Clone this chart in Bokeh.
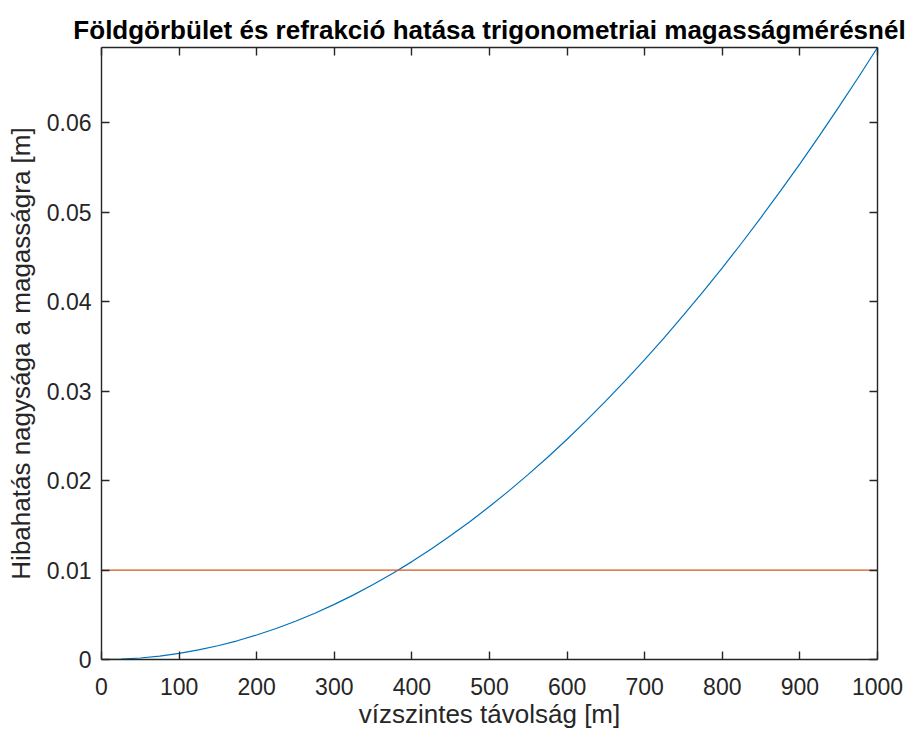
from bokeh.plotting import figure
from bokeh.models import LinearAxis, FixedTicker, CustomJSTickFormatter, Range1d
from bokeh.embed import file_html
from bokeh.resources import INLINE

# data
distance = [0, 25, 50, 75, 100, 125, 150, 175, 200, 225, 250, 275, 300, 325,
            350, 375, 400, 425, 450, 475, 500, 525, 550, 575, 600, 625, 650,
            675, 700, 725, 750, 775, 800, 825, 850, 875, 900, 925, 950, 975, 1000]
error = [0.0, 0.00004, 0.00017, 0.00038, 0.00068, 0.00107, 0.00154, 0.00209,
         0.00274, 0.00346, 0.00428, 0.00517, 0.00616, 0.00722, 0.00838,
         0.00962, 0.01094, 0.01236, 0.01385, 0.01543, 0.01710, 0.01885,
         0.02069, 0.02261, 0.02462, 0.02672, 0.02890, 0.03116, 0.03352,
         0.03595, 0.03848, 0.04108, 0.04378, 0.04655, 0.04942, 0.05237,
         0.05540, 0.05852, 0.06173, 0.06502, 0.0684]
limit_x = [0, 1000]
limit_y = [0.01, 0.01]
x_ticks = [0, 100, 200, 300, 400, 500, 600, 700, 800, 900, 1000]
y_ticks = [0.0, 0.01, 0.02, 0.03, 0.04, 0.05, 0.06]

title = "Földgörbület és refrakció hatása trigonometriai magasságmérésnél"
xlabel = "vízszintes távolság [m]"
ylabel = "Hibahatás nagysága a magasságra [m]"

FONT = "Liberation Sans"
AX = "#262626"

p = figure(width=909, height=731, output_backend="svg", toolbar_location=None,
           x_range=Range1d(0, 1000), y_range=Range1d(0, 0.0684),
           min_border_left=101, min_border_right=32, min_border_top=47,
           min_border_bottom=72)
p.outline_line_color = None
p.xgrid.visible = False
p.ygrid.visible = False
p.background_fill_color = "white"

p.title.text = title
p.title.text_font = FONT
p.title.text_font_size = "26px"
p.title.text_font_style = "bold"
p.title.text_color = "black"
p.title.align = "center"
p.title.standoff = 6

p.line(distance, error, line_color="#0072BD", line_width=1.2)
p.line(limit_x, limit_y, line_color="#D95319", line_width=1.2)

yfmt = CustomJSTickFormatter(code="return tick == 0 ? '0' : tick.toFixed(2);")

def style(ax, labels=True):
    ax.axis_line_color = AX
    ax.axis_line_width = 1.4
    ax.major_tick_line_color = AX
    ax.major_tick_line_width = 1.4
    ax.major_tick_in = 8
    ax.major_tick_out = 0
    ax.minor_tick_line_color = None
    ax.major_label_text_font = FONT
    ax.major_label_text_color = AX
    if labels:
        ax.major_label_text_font_size = "23px"
    else:
        ax.major_label_text_font_size = "0px"
        ax.major_label_text_color = None
        ax.major_label_standoff = 0
    ax.axis_label_text_font = FONT
    ax.axis_label_text_font_size = "26px"
    ax.axis_label_text_font_style = "normal"
    ax.axis_label_text_color = AX

xa = p.xaxis[0]
xa.ticker = FixedTicker(ticks=x_ticks)
style(xa)
xa.major_label_standoff = 18
xa.axis_label = xlabel
xa.axis_label_standoff = 1

ya = p.yaxis[0]
ya.ticker = FixedTicker(ticks=y_ticks)
ya.formatter = yfmt
style(ya)
ya.major_label_standoff = 10
ya.axis_label = ylabel
ya.axis_label_standoff = 8

top = LinearAxis(ticker=FixedTicker(ticks=x_ticks))
style(top, labels=False)
p.add_layout(top, "above")
right = LinearAxis(ticker=FixedTicker(ticks=y_ticks))
style(right, labels=False)
p.add_layout(right, "right")

open("out.html", "w").write(file_html(p, INLINE))
